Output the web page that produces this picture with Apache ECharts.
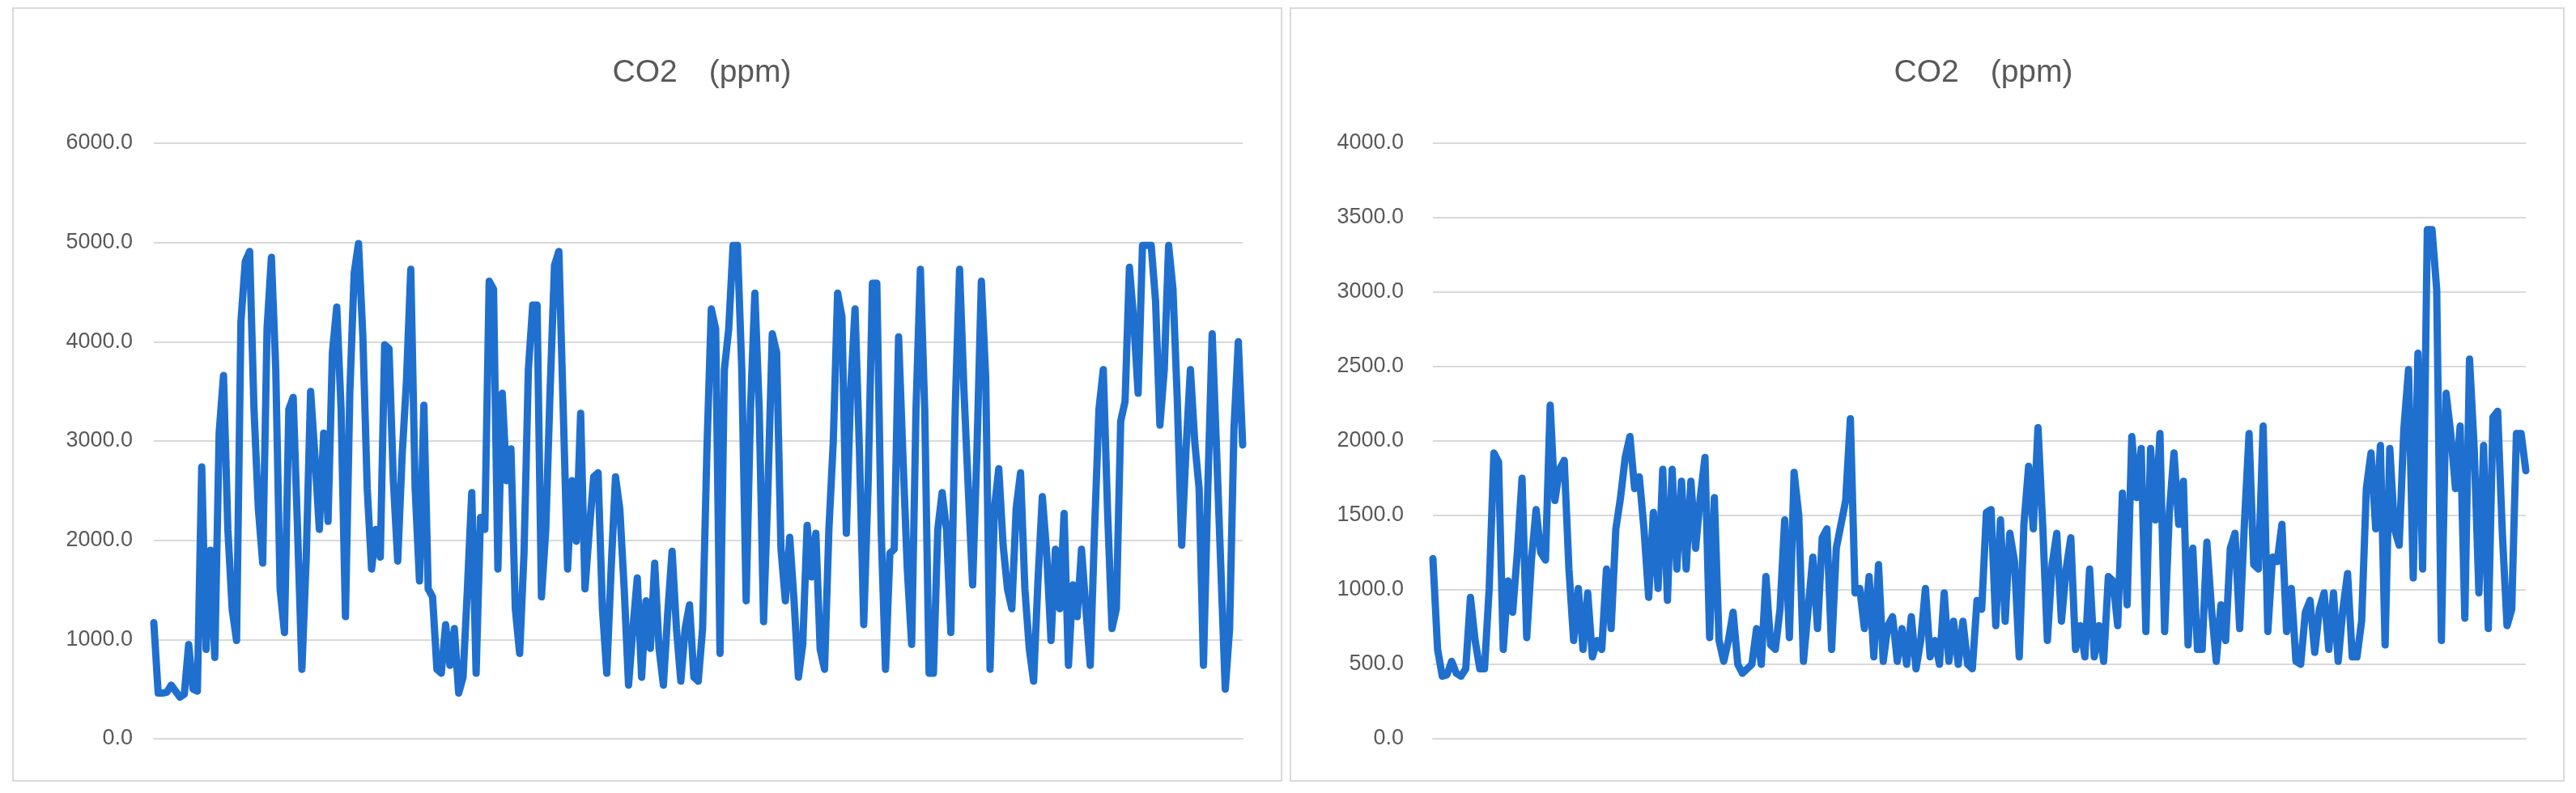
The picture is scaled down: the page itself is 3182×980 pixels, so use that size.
<!DOCTYPE html>
<html>
<head>
<meta charset="utf-8">
<script src="https://cdn.jsdelivr.net/npm/echarts@6/dist/echarts.min.js"></script>
<style>
  html, body { margin: 0; padding: 0; background: #fff; }
  #main { width: 3182px; height: 980px; }
</style>
</head>
<body>
<div id="main"></div>
<script>
// 数据：CO2 读数
var co2Left = [
  1170, 460, 460, 470, 540, 480, 420, 450, 950, 500, 480, 2740, 900, 1900, 820, 3080, 3660, 2110, 1300, 990,
  4200, 4810, 4910, 3320, 2320, 1770, 4130, 4850, 3720, 1510, 1070, 3320, 3440, 2110, 700, 1830, 3500, 2840, 2110, 3080,
  2190, 3890, 4350, 3320, 1230, 3480, 4690, 4990, 4050, 2520, 1710, 2110, 1830, 3970, 3930, 2600, 1790, 2840, 3600, 4730,
  2520, 1590, 3360, 1510, 1430, 700, 660, 1150, 740, 1110, 460, 620, 1510, 2480, 660, 2230, 2110, 4610, 4530, 1710,
  3480, 2600, 2920, 1310, 860, 1870, 3720, 4370,
  4370, 1430, 2110, 3520, 4770, 4910, 3320, 1710, 2600, 1990, 3280, 1510, 2110, 2640, 2680, 1310, 660, 1710, 2640, 2310,
  1510, 540, 1110, 1620, 620, 1390, 910, 1770, 910, 540, 1270, 1890, 1110, 580, 1110, 1350, 620, 580, 1110, 2920,
  4330, 4130, 860, 3720, 4130, 4970, 4970, 3720, 1390, 3320, 4490, 3320, 1180, 2520, 4080, 3890, 1910, 1390, 2030, 1390,
  620, 950, 2150, 1630, 2070, 900, 700, 2110, 2990, 4490, 4250, 2070, 3520, 4330, 2920, 1150, 2560, 4590, 4590, 2110,
  700, 1870,
  1910, 4050, 2840, 1710, 950, 3320, 4730, 3320, 660, 660, 2110, 2480, 2110, 1070, 3320, 4730, 3520, 2520, 1550, 2920,
  4610, 3640, 700, 2320, 2720, 1950, 1510, 1310, 2320, 2680, 1510, 910, 580, 1590, 2440, 1870, 990, 1910, 1310, 2270,
  740, 1550, 1230, 1910, 1310, 740, 2110, 3320, 3720, 2270, 1110, 1310, 3200, 3400, 4750, 4210, 3480, 4970, 4970, 4970,
  4410, 3160, 3720, 4970, 4530, 3400, 1950, 2920, 3720, 2990, 2520, 740, 2520, 4080, 2920, 1710, 500, 1110, 3120, 4000,
  2960
];
var co2Right = [
  1210, 600, 420, 430, 520, 440, 420, 470, 950, 660, 470, 470, 1010, 1920, 1860, 600, 1060, 850, 1250, 1750,
  680, 1200, 1540, 1250, 1200, 2240, 1600, 1810, 1870, 1140, 660, 1010, 600, 980, 550, 660, 600, 1140, 740, 1410,
  1620, 1890, 2030, 1680, 1760, 1410, 950, 1520, 1010, 1810, 930, 1810, 1140, 1730, 1140, 1730, 1280, 1620, 1890, 680,
  1620, 660, 520, 660, 850, 500, 440,
  470, 500, 740, 500, 1090, 630, 600, 870, 1470, 680, 1790, 1500, 520, 870, 1220, 740, 1350, 1410, 600, 1280,
  1440, 1600, 2150, 980, 1010, 740, 1090, 550, 1170, 520, 760, 820, 520, 740, 500, 820, 470, 660, 1010, 550,
  660, 500, 980, 520, 790, 500, 790, 500, 470, 930, 870, 1520, 1540, 760, 1470, 790, 1380, 1190, 550, 1440,
  1830, 1410, 2090, 1440, 660, 1170, 1380, 790, 1140, 1350, 600, 760, 550, 1140, 550, 760, 520, 1090, 1060,
  760, 1650, 900, 2030, 1620, 1950, 720, 1950, 1470, 2050, 720, 1520, 1920, 1440, 1730, 630, 1280, 600, 600, 1320,
  870, 520, 900, 660, 1280, 1380, 740, 1440, 2050, 1170, 1140, 2100, 720, 1220, 1190, 1440, 720, 1010, 520, 500,
  850, 930, 580, 870, 980, 600, 980, 520, 870, 1110, 550, 550, 790, 1680, 1920, 1410, 1970, 630, 1950, 1410,
  1300, 2080, 2480, 1080, 2590, 1140, 3420, 3420, 3020, 660, 2320, 2050, 1680, 2100, 810, 2550, 1950, 980, 1970, 740,
  2160, 2200, 1380, 760, 870, 2050, 2050, 1800
];
var leftTicks = { min: 0, max: 6000, interval: 1000 };
var rightTicks = { min: 0, max: 4000, interval: 500 };
var chartTitle = 'CO2　(ppm)';

var myChart = echarts.init(document.getElementById('main'));

function idx(arr) {
    return arr.map(function (v, i) { return i; });
}

var axisText = { color: '#595959', fontSize: 27, fontFamily: 'Liberation Sans, Arial' };
var gridLine = { lineStyle: { color: '#d9d9d9', width: 2 } };
var titleText = { color: '#595959', fontSize: 39, fontWeight: 'normal', fontFamily: 'Liberation Sans, Arial' };

option = {
    animation: false,
    backgroundColor: '#fff',
    title: [
        { text: chartTitle, left: 862, top: 66, textAlign: 'center', textStyle: titleText },
        { text: chartTitle, left: 2445, top: 66, textAlign: 'center', textStyle: titleText }
    ],
    graphic: [
        { type: 'rect', shape: { x: 16, y: 10, width: 1567, height: 955 },
          style: { fill: 'none', stroke: '#d9d9d9', lineWidth: 2 } },
        { type: 'rect', shape: { x: 1594, y: 10, width: 1573, height: 955 },
          style: { fill: 'none', stroke: '#d9d9d9', lineWidth: 2 } }
    ],
    grid: [
        { left: 190, right: 1647, top: 177, bottom: 67 },
        { left: 1770, right: 62, top: 177, bottom: 67 }
    ],
    xAxis: [
        { type: 'category', gridIndex: 0, boundaryGap: false, data: idx(co2Left),
          axisLabel: { show: false }, axisTick: { show: false }, axisLine: gridLine },
        { type: 'category', gridIndex: 1, boundaryGap: false, data: idx(co2Right),
          axisLabel: { show: false }, axisTick: { show: false }, axisLine: gridLine }
    ],
    yAxis: [
        { type: 'value', gridIndex: 0, min: leftTicks.min, max: leftTicks.max, interval: leftTicks.interval,
          axisLabel: Object.assign({ margin: 26, formatter: function (v) { return v.toFixed(1); } }, axisText),
          splitLine: gridLine, axisLine: { show: false }, axisTick: { show: false } },
        { type: 'value', gridIndex: 1, min: rightTicks.min, max: rightTicks.max, interval: rightTicks.interval,
          axisLabel: Object.assign({ margin: 36, formatter: function (v) { return v.toFixed(1); } }, axisText),
          splitLine: gridLine, axisLine: { show: false }, axisTick: { show: false } }
    ],
    series: [
        { type: 'line', xAxisIndex: 0, yAxisIndex: 0, data: co2Left, showSymbol: false,
          lineStyle: { color: '#1f6fcf', width: 9, join: 'round', cap: 'round' } },
        { type: 'line', xAxisIndex: 1, yAxisIndex: 1, data: co2Right, showSymbol: false,
          lineStyle: { color: '#1f6fcf', width: 9, join: 'round', cap: 'round' } }
    ]
};

myChart.setOption(option);
</script>
</body>
</html>
